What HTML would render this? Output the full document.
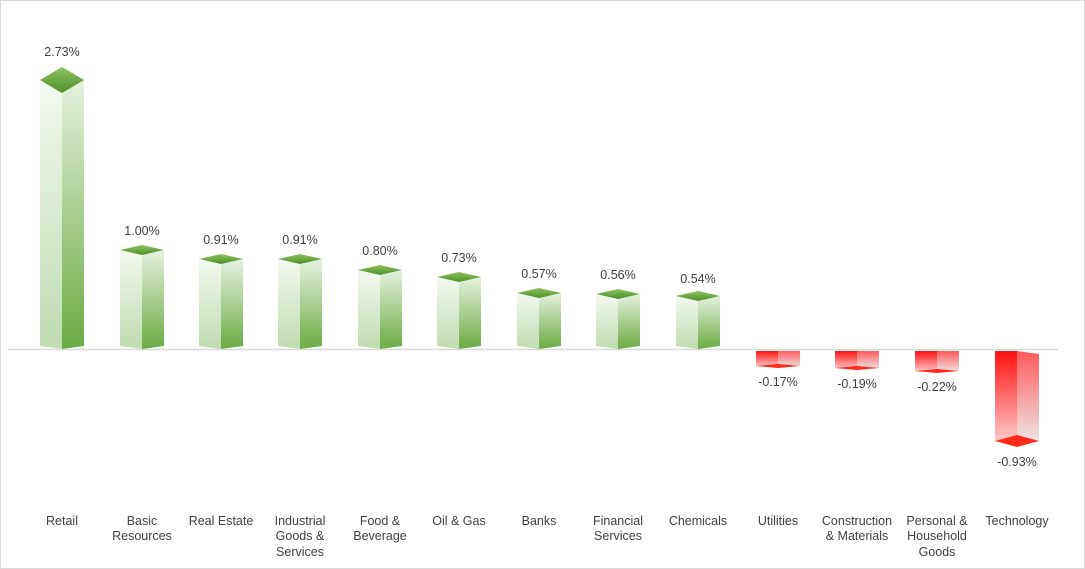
<!DOCTYPE html>
<html><head><meta charset="utf-8"><style>
html,body{margin:0;padding:0;background:#fff}
svg{display:block}
text{font-family:"Liberation Sans",Arial,sans-serif;font-size:12.5px;fill:#404040}
</style></head><body>
<svg width="1085" height="569" viewBox="0 0 1085 569" xmlns="http://www.w3.org/2000/svg">
<defs>
<linearGradient id="gl" x1="0" y1="0" x2="0" y2="1"><stop offset="0" stop-color="#f4f9f1"/><stop offset="1" stop-color="#bfdcaf"/></linearGradient>
<linearGradient id="gr" x1="0" y1="0" x2="0" y2="1"><stop offset="0" stop-color="#e6f1df"/><stop offset="1" stop-color="#6aab42"/></linearGradient>
<linearGradient id="gt" x1="0" y1="0" x2="0" y2="1"><stop offset="0" stop-color="#8cc460"/><stop offset="1" stop-color="#4f8f2a"/></linearGradient>
<linearGradient id="rl" x1="0" y1="0" x2="0" y2="1"><stop offset="0" stop-color="#ff1010"/><stop offset="1" stop-color="#ffd6d6"/></linearGradient>
<linearGradient id="rr" x1="0" y1="0" x2="0" y2="1"><stop offset="0" stop-color="#ff5a5a"/><stop offset="1" stop-color="#ececec"/></linearGradient>
</defs>
<rect x="0.5" y="0.5" width="1084" height="568" fill="#fff" stroke="#d9d9d9"/>
<line x1="8" y1="349.5" x2="1058" y2="349.5" stroke="#d9d9d9" stroke-width="1.5"/>

<!-- Retail -->
<polygon points="40,80 62,93 62,349 40,346" fill="url(#gl)"/>
<polygon points="62,93 84,80 84,346 62,349" fill="url(#gr)"/>
<polygon points="40,80 62,67 84,80 62,93" fill="url(#gt)"/>
<!-- Basic -->
<polygon points="120,250 142,255 142,349 120,346" fill="url(#gl)"/>
<polygon points="142,255 164,250 164,346 142,349" fill="url(#gr)"/>
<polygon points="120,250 142,245 164,250 142,255" fill="url(#gt)"/>
<!-- Real Estate -->
<polygon points="199,259 221,264 221,349 199,346" fill="url(#gl)"/>
<polygon points="221,264 243,259 243,346 221,349" fill="url(#gr)"/>
<polygon points="199,259 221,254 243,259 221,264" fill="url(#gt)"/>
<!-- Industrial -->
<polygon points="278,259 300,264 300,349 278,346" fill="url(#gl)"/>
<polygon points="300,264 322,259 322,346 300,349" fill="url(#gr)"/>
<polygon points="278,259 300,254 322,259 300,264" fill="url(#gt)"/>
<!-- Food -->
<polygon points="358,270 380,275 380,349 358,346" fill="url(#gl)"/>
<polygon points="380,275 402,270 402,346 380,349" fill="url(#gr)"/>
<polygon points="358,270 380,265 402,270 380,275" fill="url(#gt)"/>
<!-- Oil -->
<polygon points="437,277 459,282 459,349 437,346" fill="url(#gl)"/>
<polygon points="459,282 481,277 481,346 459,349" fill="url(#gr)"/>
<polygon points="437,277 459,272 481,277 459,282" fill="url(#gt)"/>
<!-- Banks -->
<polygon points="517,293 539,298 539,349 517,346" fill="url(#gl)"/>
<polygon points="539,298 561,293 561,346 539,349" fill="url(#gr)"/>
<polygon points="517,293 539,288 561,293 539,298" fill="url(#gt)"/>
<!-- Financial -->
<polygon points="596,294 618,299 618,349 596,346" fill="url(#gl)"/>
<polygon points="618,299 640,294 640,346 618,349" fill="url(#gr)"/>
<polygon points="596,294 618,289 640,294 618,299" fill="url(#gt)"/>
<!-- Chemicals -->
<polygon points="676,296 698,301 698,349 676,346" fill="url(#gl)"/>
<polygon points="698,301 720,296 720,346 698,349" fill="url(#gr)"/>
<polygon points="676,296 698,291 720,296 698,301" fill="url(#gt)"/>
<!-- Utilities -->
<polygon points="756,351 778,351 778,368 756,366" fill="url(#rl)"/>
<polygon points="778,351 800,351 800,366 778,368" fill="url(#rr)"/>
<polygon points="756,366 778,364 800,366 778,368" fill="#ff2a1a"/>
<!-- Construction -->
<polygon points="835,351 857,351 857,370 835,368" fill="url(#rl)"/>
<polygon points="857,351 879,351 879,368 857,370" fill="url(#rr)"/>
<polygon points="835,368 857,366 879,368 857,370" fill="#ff2a1a"/>
<!-- Personal -->
<polygon points="915,351 937,351 937,373 915,371" fill="url(#rl)"/>
<polygon points="937,351 959,351 959,371 937,373" fill="url(#rr)"/>
<polygon points="915,371 937,369 959,371 937,373" fill="#ff2a1a"/>
<!-- Technology -->
<polygon points="995,351 1017,351 1017,447 995,441" fill="url(#rl)"/>
<polygon points="1017,351 1039,354 1039,441 1017,447" fill="url(#rr)"/>
<polygon points="995,441 1017,435 1039,441 1017,447" fill="#ff2a1a"/>

<g text-anchor="middle">
<text x="62" y="56">2.73%</text>
<text x="142" y="235">1.00%</text>
<text x="221" y="244">0.91%</text>
<text x="300" y="244">0.91%</text>
<text x="380" y="255">0.80%</text>
<text x="459" y="262">0.73%</text>
<text x="539" y="278">0.57%</text>
<text x="618" y="279">0.56%</text>
<text x="698" y="283">0.54%</text>
<text x="778" y="386">-0.17%</text>
<text x="857" y="388">-0.19%</text>
<text x="937" y="391">-0.22%</text>
<text x="1017" y="466">-0.93%</text>

<text x="62" y="525">Retail</text>
<text x="142" y="525">Basic</text><text x="142" y="540">Resources</text>
<text x="221" y="525">Real Estate</text>
<text x="300" y="525">Industrial</text><text x="300" y="540">Goods &amp;</text><text x="300" y="556">Services</text>
<text x="380" y="525">Food &amp;</text><text x="380" y="540">Beverage</text>
<text x="459" y="525">Oil &amp; Gas</text>
<text x="539" y="525">Banks</text>
<text x="618" y="525">Financial</text><text x="618" y="540">Services</text>
<text x="698" y="525">Chemicals</text>
<text x="778" y="525">Utilities</text>
<text x="857" y="525">Construction</text><text x="857" y="540">&amp; Materials</text>
<text x="937" y="525">Personal &amp;</text><text x="937" y="540">Household</text><text x="937" y="556">Goods</text>
<text x="1017" y="525">Technology</text>
</g>
</svg>
</body></html>
